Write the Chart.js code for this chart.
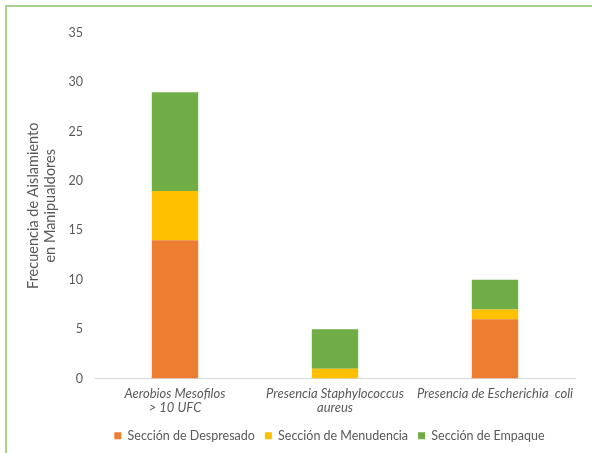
<!DOCTYPE html>
<html>
<head>
<meta charset="utf-8">
<script src="https://cdn.jsdelivr.net/npm/chart.js@4.4.1/dist/chart.umd.min.js"></script>
<style>
    html, body { margin: 0; padding: 0; background: #fff; }
    #wrap { position: relative; width: 592px; height: 453px; overflow: hidden; }
    #frame { position: absolute; left: 5px; top: 5px; width: 620px; height: 480px; border: 2px solid #a9d18e; box-sizing: border-box; }
    canvas { position: absolute; left: 0; top: 0; }
</style>
</head>
<body>
<div id="wrap">
    <div id="frame"></div>
    <canvas id="barChart" width="592" height="453"></canvas>
</div>
<script>
const categories = [
    ['Aerobios Mesofilos', '> 10 UFC'],
    ['Presencia Staphylococcus', 'aureus'],
    'Presencia de Escherichia  coli'
];
const despresado = [14, 0, 6];
const menudencia = [5, 1, 1];
const empaque = [10, 4, 3];
const yTicks = [0, 5, 10, 15, 20, 25, 30, 35];

const fontFamily = 'Lato, "Open Sans", sans-serif';
const textColor = '#595959';

function makeDataset(label, values, color) {
    return {
        label: label,
        data: values,
        backgroundColor: color,
        borderWidth: 0,
        barPercentage: 0.29,
        categoryPercentage: 1
    };
}

// legend sits a bit right of the canvas centre, under the plot area
const legendShift = {
    id: 'legendShift',
    afterLayout(chart) {
        chart.legend.left += 42;
        chart.legend.right += 42;
    }
};

const ctx = document.getElementById('barChart').getContext('2d');
new Chart(ctx, {
    type: 'bar',
    data: {
        labels: categories,
        datasets: [
            makeDataset('Sección de Despresado', despresado, '#ed7d31'),
            makeDataset('Sección de Menudencia', menudencia, '#ffc000'),
            makeDataset('Sección de Empaque', empaque, '#70ad47')
        ]
    },
    plugins: [legendShift],
    options: {
        responsive: false,
        animation: false,
        layout: {
            padding: { left: 0, top: 33, right: 17, bottom: 1 }
        },
        plugins: {
            tooltip: { enabled: false },
            legend: {
                position: 'bottom',
                labels: {
                    boxWidth: 7,
                    boxHeight: 7,
                    padding: 10,
                    color: textColor,
                    font: { family: fontFamily, size: 12.5 }
                }
            }
        },
        scales: {
            x: {
                stacked: true,
                grid: { display: false, drawTicks: false },
                border: { color: '#d9d9d9', width: 1 },
                ticks: {
                    color: textColor,
                    padding: 8,
                    maxRotation: 0,
                    autoSkip: false,
                    font: { family: fontFamily, size: 13, style: 'italic', lineHeight: 1.1 }
                },
                afterFit: function(scale) { scale.height = 41; }
            },
            y: {
                stacked: true,
                min: 0,
                max: 35,
                afterBuildTicks: function(scale) {
                    scale.ticks = yTicks.map(v => ({ value: v }));
                },
                grid: { display: false, drawTicks: false },
                border: { display: false },
                ticks: {
                    color: textColor,
                    padding: 12,
                    font: { family: fontFamily, size: 12.5 }
                },
                title: {
                    display: true,
                    text: ['Frecuencia de Aislamiento', 'en Manipualdores'],
                    color: textColor,
                    padding: { top: 25, bottom: 0 },
                    font: { family: fontFamily, size: 14.5, lineHeight: 1.15 }
                },
                afterFit: function(scale) { scale.width = 95; }
            }
        }
    }
});
</script>
</body>
</html>
